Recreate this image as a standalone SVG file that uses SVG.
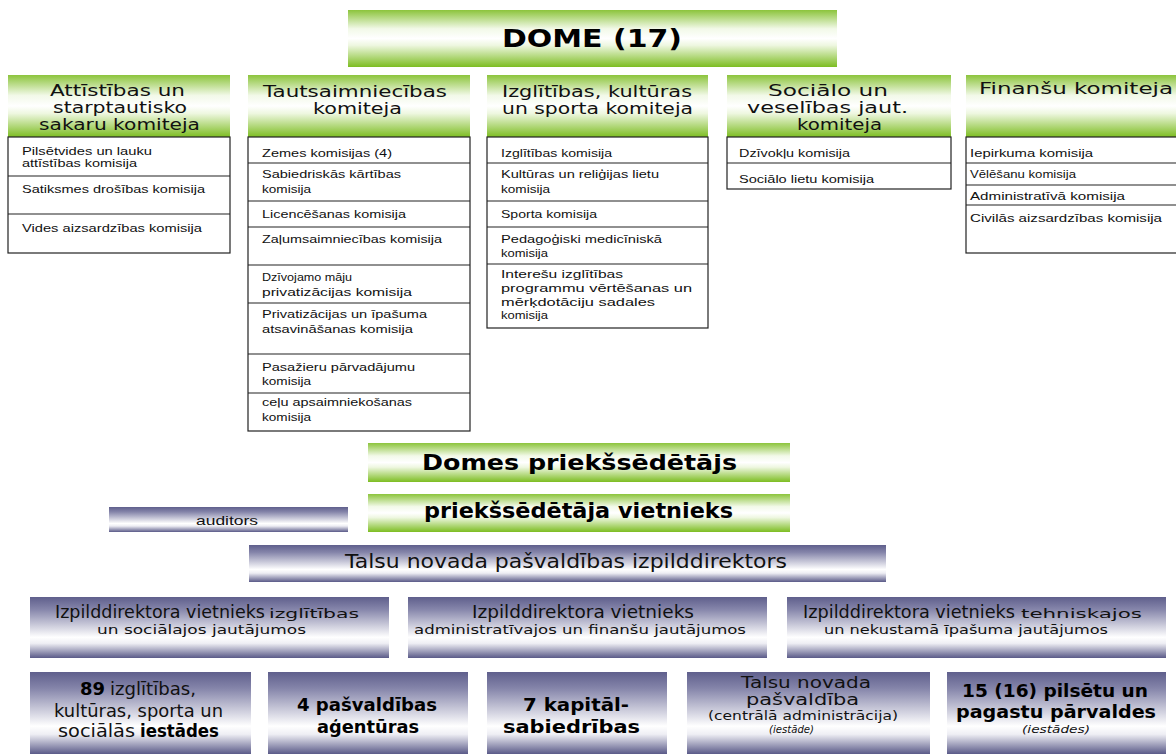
<svg xmlns="http://www.w3.org/2000/svg" width="1176" height="755" viewBox="0 0 1176 755">
<defs>
<linearGradient id="gg" x1="0" y1="0" x2="0" y2="1">
<stop offset="0" stop-color="#8cc43c"/>
<stop offset="0.33" stop-color="#f2f9e8"/>
<stop offset="0.5" stop-color="#ffffff"/>
<stop offset="0.62" stop-color="#eef7e0"/>
<stop offset="1" stop-color="#7dbd22"/>
</linearGradient>
<linearGradient id="bg" x1="0" y1="0" x2="0" y2="1">
<stop offset="0" stop-color="#5f5f8c"/>
<stop offset="0.2" stop-color="#8585aa"/>
<stop offset="0.66" stop-color="#ffffff"/>
<stop offset="0.76" stop-color="#eeeef4"/>
<stop offset="1" stop-color="#5a5a88"/>
</linearGradient>
</defs>
<style>
.g{fill:url(#gg)}
.b{fill:url(#bg)}
.tb{fill:#ffffff;stroke:#222;stroke-width:1.2}
.sep{stroke:#222;stroke-width:1.2}
.hd{font-family:"DejaVu Sans",Verdana,sans-serif;font-size:15px;fill:#111}
.it{font-family:"Liberation Sans",Arial,sans-serif;font-size:11px;fill:#111}
.bt{font-family:"DejaVu Sans",Verdana,sans-serif;font-weight:bold;fill:#000}
.rg{font-family:"DejaVu Sans",Verdana,sans-serif;fill:#111}
.ar{font-family:"Liberation Sans",Arial,sans-serif;fill:#111}
.ita{font-family:"DejaVu Sans",Verdana,sans-serif;font-style:italic;fill:#111}
</style>
<rect width="1176" height="755" fill="#ffffff"/>

<g id="dome">
<rect class="g" x="348" y="10" width="489" height="57"/>
<text class="bt" x="502" y="47" font-size="24" textLength="180" lengthAdjust="spacingAndGlyphs">DOME (17)</text>
</g>

<g id="komiteja-attistibas">
<rect class="g" x="8" y="75" width="222" height="62"/>
<text class="hd" x="50" y="96" textLength="135" lengthAdjust="spacingAndGlyphs">Attīstības un</text>
<text class="hd" x="53" y="113" textLength="134" lengthAdjust="spacingAndGlyphs">starptautisko</text>
<text class="hd" x="39" y="130" textLength="161" lengthAdjust="spacingAndGlyphs">sakaru komiteja</text>
<rect class="tb" x="8" y="137" width="222" height="116"/>
<line class="sep" x1="8" y1="176" x2="230" y2="176"/>
<line class="sep" x1="8" y1="214" x2="230" y2="214"/>
<text class="it" x="22" y="155" textLength="130" lengthAdjust="spacingAndGlyphs">Pilsētvides un lauku</text>
<text class="it" x="22" y="167" textLength="115" lengthAdjust="spacingAndGlyphs">attīstības komisija</text>
<text class="it" x="22" y="193" textLength="183" lengthAdjust="spacingAndGlyphs">Satiksmes drošības komisija</text>
<text class="it" x="22" y="232" textLength="180" lengthAdjust="spacingAndGlyphs">Vides aizsardzības komisija</text>
</g>

<g id="komiteja-tautsaimniecibas">
<rect class="g" x="248" y="75" width="222" height="62"/>
<text class="hd" x="263" y="97" textLength="184" lengthAdjust="spacingAndGlyphs">Tautsaimniecības</text>
<text class="hd" x="313" y="114" textLength="89" lengthAdjust="spacingAndGlyphs">komiteja</text>
<rect class="tb" x="248" y="137" width="222" height="294"/>
<line class="sep" x1="248" y1="163" x2="470" y2="163"/>
<line class="sep" x1="248" y1="201" x2="470" y2="201"/>
<line class="sep" x1="248" y1="227" x2="470" y2="227"/>
<line class="sep" x1="248" y1="265" x2="470" y2="265"/>
<line class="sep" x1="248" y1="303" x2="470" y2="303"/>
<line class="sep" x1="248" y1="354" x2="470" y2="354"/>
<line class="sep" x1="248" y1="393" x2="470" y2="393"/>
<text class="it" x="262" y="157" textLength="130" lengthAdjust="spacingAndGlyphs">Zemes komisijas (4)</text>
<text class="it" x="262" y="178" textLength="139" lengthAdjust="spacingAndGlyphs">Sabiedriskās kārtības</text>
<text class="it" x="262" y="193" textLength="49" lengthAdjust="spacingAndGlyphs">komisija</text>
<text class="it" x="262" y="218" textLength="144" lengthAdjust="spacingAndGlyphs">Licencēšanas komisija</text>
<text class="it" x="262" y="243" textLength="180" lengthAdjust="spacingAndGlyphs">Zaļumsaimniecības komisija</text>
<text class="it" x="262" y="281" textLength="90" lengthAdjust="spacingAndGlyphs">Dzīvojamo māju</text>
<text class="it" x="262" y="296" textLength="150" lengthAdjust="spacingAndGlyphs">privatizācijas komisija</text>
<text class="it" x="262" y="318" textLength="165" lengthAdjust="spacingAndGlyphs">Privatizācijas un īpašuma</text>
<text class="it" x="262" y="333" textLength="151" lengthAdjust="spacingAndGlyphs">atsavināšanas komisija</text>
<text class="it" x="262" y="371" textLength="153" lengthAdjust="spacingAndGlyphs">Pasažieru pārvadājumu</text>
<text class="it" x="262" y="385" textLength="49" lengthAdjust="spacingAndGlyphs">komisija</text>
<text class="it" x="262" y="406" textLength="150" lengthAdjust="spacingAndGlyphs">ceļu apsaimniekošanas</text>
<text class="it" x="262" y="421" textLength="49" lengthAdjust="spacingAndGlyphs">komisija</text>
</g>

<g id="komiteja-izglitibas">
<rect class="g" x="487" y="75" width="221" height="62"/>
<text class="hd" x="502" y="97" textLength="190" lengthAdjust="spacingAndGlyphs">Izglītības, kultūras</text>
<text class="hd" x="502" y="114" textLength="191" lengthAdjust="spacingAndGlyphs">un sporta komiteja</text>
<rect class="tb" x="487" y="137" width="221" height="191"/>
<line class="sep" x1="487" y1="163" x2="708" y2="163"/>
<line class="sep" x1="487" y1="201" x2="708" y2="201"/>
<line class="sep" x1="487" y1="227" x2="708" y2="227"/>
<line class="sep" x1="487" y1="264" x2="708" y2="264"/>
<text class="it" x="501" y="157" textLength="111" lengthAdjust="spacingAndGlyphs">Izglītības komisija</text>
<text class="it" x="501" y="178" textLength="158" lengthAdjust="spacingAndGlyphs">Kultūras un reliģijas lietu</text>
<text class="it" x="501" y="193" textLength="49" lengthAdjust="spacingAndGlyphs">komisija</text>
<text class="it" x="501" y="218" textLength="96" lengthAdjust="spacingAndGlyphs">Sporta komisija</text>
<text class="it" x="501" y="243" textLength="161" lengthAdjust="spacingAndGlyphs">Pedagoģiski medicīniskā</text>
<text class="it" x="501" y="257" textLength="47" lengthAdjust="spacingAndGlyphs">komisija</text>
<text class="it" x="501" y="278" textLength="122" lengthAdjust="spacingAndGlyphs">Interešu izglītības</text>
<text class="it" x="501" y="292" textLength="191" lengthAdjust="spacingAndGlyphs">programmu vērtēšanas un</text>
<text class="it" x="501" y="306" textLength="154" lengthAdjust="spacingAndGlyphs">mērķdotāciju sadales</text>
<text class="it" x="501" y="319" textLength="47" lengthAdjust="spacingAndGlyphs">komisija</text>
</g>

<g id="komiteja-socialo">
<rect class="g" x="727" y="75" width="224" height="62"/>
<text class="hd" x="768" y="96" textLength="120" lengthAdjust="spacingAndGlyphs">Sociālo un</text>
<text class="hd" x="747" y="113" textLength="161" lengthAdjust="spacingAndGlyphs">veselības jaut.</text>
<text class="hd" x="797" y="130" textLength="85" lengthAdjust="spacingAndGlyphs">komiteja</text>
<rect class="tb" x="727" y="137" width="224" height="52"/>
<line class="sep" x1="727" y1="163" x2="951" y2="163"/>
<text class="it" x="739" y="157" textLength="111" lengthAdjust="spacingAndGlyphs">Dzīvokļu komisija</text>
<text class="it" x="739" y="183" textLength="135" lengthAdjust="spacingAndGlyphs">Sociālo lietu komisija</text>
</g>

<g id="komiteja-finansu">
<rect class="g" x="966" y="75" width="215" height="62"/>
<text class="hd" x="979" y="94" font-size="16" textLength="194" lengthAdjust="spacingAndGlyphs">Finanšu komiteja</text>
<rect class="tb" x="966" y="137" width="215" height="116"/>
<line class="sep" x1="966" y1="163" x2="1181" y2="163"/>
<line class="sep" x1="966" y1="185" x2="1181" y2="185"/>
<line class="sep" x1="966" y1="205" x2="1181" y2="205"/>
<text class="it" x="970" y="157" textLength="123" lengthAdjust="spacingAndGlyphs">Iepirkuma komisija</text>
<text class="it" x="970" y="178" textLength="106" lengthAdjust="spacingAndGlyphs">Vēlēšanu komisija</text>
<text class="it" x="970" y="200" textLength="155" lengthAdjust="spacingAndGlyphs">Administratīvā komisija</text>
<text class="it" x="970" y="222" textLength="192" lengthAdjust="spacingAndGlyphs">Civilās aizsardzības komisija</text>
</g>

<g id="priekssedetajs">
<rect class="g" x="368" y="443" width="422" height="39"/>
<text class="bt" x="422" y="470" font-size="21" textLength="315" lengthAdjust="spacingAndGlyphs">Domes priekšsēdētājs</text>
</g>

<g id="vietnieks">
<rect class="g" x="368" y="494" width="422" height="38"/>
<text class="bt" x="424" y="518" font-size="21" textLength="309" lengthAdjust="spacingAndGlyphs">priekšsēdētāja vietnieks</text>
</g>

<g id="auditors">
<rect class="b" x="109" y="507" width="239" height="25"/>
<text class="ar" x="196" y="525" font-size="12" textLength="62" lengthAdjust="spacingAndGlyphs">auditors</text>
</g>

<g id="izpilddirektors">
<rect class="b" x="249" y="545" width="637" height="37"/>
<text class="rg" x="345" y="568" font-size="19" textLength="442" lengthAdjust="spacingAndGlyphs">Talsu novada pašvaldības izpilddirektors</text>
</g>

<g id="vietnieks-izglitibas">
<rect class="b" x="30" y="597" width="359" height="61"/>
<text class="rg" x="55" y="618" font-size="17" textLength="210" lengthAdjust="spacingAndGlyphs">Izpilddirektora vietnieks</text>
<text class="rg" x="269" y="618" font-size="12" textLength="90" lengthAdjust="spacingAndGlyphs">izglītības</text>
<text class="rg" x="97" y="634" font-size="13" textLength="209" lengthAdjust="spacingAndGlyphs">un sociālajos jautājumos</text>
</g>

<g id="vietnieks-administrativajos">
<rect class="b" x="408" y="597" width="359" height="61"/>
<text class="rg" x="472" y="618" font-size="17" textLength="222" lengthAdjust="spacingAndGlyphs">Izpilddirektora vietnieks</text>
<text class="rg" x="414" y="634" font-size="13" textLength="332" lengthAdjust="spacingAndGlyphs">administratīvajos un finanšu jautājumos</text>
</g>

<g id="vietnieks-tehniskajos">
<rect class="b" x="787" y="597" width="379" height="61"/>
<text class="rg" x="803" y="618" font-size="17" textLength="212" lengthAdjust="spacingAndGlyphs">Izpilddirektora vietnieks</text>
<text class="rg" x="1021" y="618" font-size="12" textLength="121" lengthAdjust="spacingAndGlyphs">tehniskajos</text>
<text class="rg" x="824" y="634" font-size="13" textLength="284" lengthAdjust="spacingAndGlyphs">un nekustamā īpašuma jautājumos</text>
</g>

<g id="iestades">
<rect class="b" x="30" y="672" width="221" height="82"/>
<text class="bt" x="80" y="695" font-size="18" textLength="25" lengthAdjust="spacingAndGlyphs">89</text>
<text class="rg" x="110" y="695" font-size="17" textLength="86" lengthAdjust="spacingAndGlyphs">izglītības,</text>
<text class="rg" x="54" y="717" font-size="17" textLength="169" lengthAdjust="spacingAndGlyphs">kultūras, sporta un</text>
<text class="rg" x="58" y="737" font-size="17" textLength="77" lengthAdjust="spacingAndGlyphs">sociālās</text>
<text class="bt" x="140" y="737" font-size="18" textLength="79" lengthAdjust="spacingAndGlyphs">iestādes</text>
</g>

<g id="agenturas">
<rect class="b" x="268" y="672" width="200" height="82"/>
<text class="bt" x="297" y="711" font-size="18" textLength="140" lengthAdjust="spacingAndGlyphs">4 pašvaldības</text>
<text class="bt" x="317" y="733" font-size="18" textLength="102" lengthAdjust="spacingAndGlyphs">aģentūras</text>
</g>

<g id="kapitalsabiedribas">
<rect class="b" x="487" y="672" width="180" height="82"/>
<text class="bt" x="523" y="711" font-size="18" textLength="106" lengthAdjust="spacingAndGlyphs">7 kapitāl-</text>
<text class="bt" x="503" y="733" font-size="18" textLength="137" lengthAdjust="spacingAndGlyphs">sabiedrības</text>
</g>

<g id="pasvaldiba">
<rect class="b" x="687" y="672" width="243" height="82"/>
<text class="rg" x="741" y="688" font-size="16" fill="#333" textLength="130" lengthAdjust="spacingAndGlyphs">Talsu novada</text>
<text class="rg" x="746" y="705" font-size="16" fill="#333" textLength="113" lengthAdjust="spacingAndGlyphs">pašvaldība</text>
<text class="rg" x="708" y="720" font-size="12" textLength="190" lengthAdjust="spacingAndGlyphs">(centrālā administrācija)</text>
<text class="ita" x="769" y="733" font-size="11" textLength="45" lengthAdjust="spacingAndGlyphs">(iestāde)</text>
</g>

<g id="parvaldes">
<rect class="b" x="947" y="672" width="219" height="82"/>
<text class="bt" x="962" y="697" font-size="18" textLength="186" lengthAdjust="spacingAndGlyphs">15 (16) pilsētu un</text>
<text class="bt" x="956" y="718" font-size="18" textLength="200" lengthAdjust="spacingAndGlyphs">pagastu pārvaldes</text>
<text class="ita" x="1022" y="733" font-size="11" textLength="68" lengthAdjust="spacingAndGlyphs">(iestādes)</text>
</g>

<g id="connectors"/>
</svg>
